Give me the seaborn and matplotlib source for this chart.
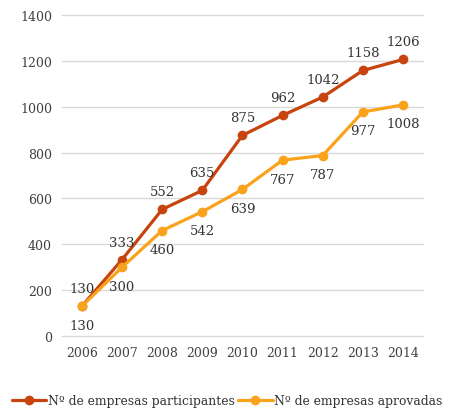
import matplotlib
matplotlib.use("Agg")
import matplotlib.pyplot as plt
import seaborn as sns
import pandas as pd

years = [2006, 2007, 2008, 2009, 2010, 2011, 2012, 2013, 2014]
participantes = [130, 333, 552, 635, 875, 962, 1042, 1158, 1206]
aprovadas = [130, 300, 460, 542, 639, 767, 787, 977, 1008]
series_names = ["Nº de empresas participantes", "Nº de empresas aprovadas"]
colors = ["#C8440E", "#F9A21C"]

df = pd.DataFrame({
    "Ano": years * 2,
    "Valor": participantes + aprovadas,
    "Serie": [series_names[0]] * len(years) + [series_names[1]] * len(years),
})

sns.set_theme(style="white")
plt.rcParams["font.family"] = ["DejaVu Serif"]

fig = plt.figure(figsize=(4.51, 4.10), dpi=100)
ax = fig.add_axes([0.137, 0.178, 0.801, 0.783])

sns.lineplot(data=df, x="Ano", y="Valor", hue="Serie", palette=colors,
             marker="o", markersize=7, markeredgewidth=0, linewidth=2.3,
             ax=ax, legend=True)

ax.set_xlim(2005.5, 2014.5)
ax.set_ylim(0, 1400)
ax.set_yticks(range(0, 1401, 200))
ax.set_xticks(years)
ax.set_xticklabels([str(y) for y in years])
ax.yaxis.grid(True, color="#D9D9D9", linewidth=1)
ax.set_axisbelow(True)
for gl in ax.get_ygridlines():
    gl.set_clip_on(False)
ax.xaxis.grid(False)
for s in ax.spines.values():
    s.set_visible(False)
ax.tick_params(axis="both", length=0, labelsize=9, colors="#404040", pad=7)
ax.set_xlabel("")
ax.set_ylabel("")

for x, v in zip(years, participantes):
    ax.annotate(str(v), (x, v), xytext=(0, 8), textcoords="offset points",
                ha="center", va="bottom", fontsize=9.5, color="#333333")
for x, v in zip(years, aprovadas):
    ax.annotate(str(v), (x, v), xytext=(0, -9), textcoords="offset points",
                ha="center", va="top", fontsize=9.5, color="#333333")

leg = fig.legend(*ax.get_legend_handles_labels(), loc="center",
                 bbox_to_anchor=(227 / 451, 1 - 402 / 410), ncol=2,
                 frameon=False, fontsize=8.9, handlelength=2.8,
                 columnspacing=0.3, handletextpad=0.1, borderaxespad=0,
                 borderpad=0)
ax.get_legend().remove()
for t in leg.get_texts():
    t.set_color("#333333")

fig.savefig("out.png", dpi=100)
